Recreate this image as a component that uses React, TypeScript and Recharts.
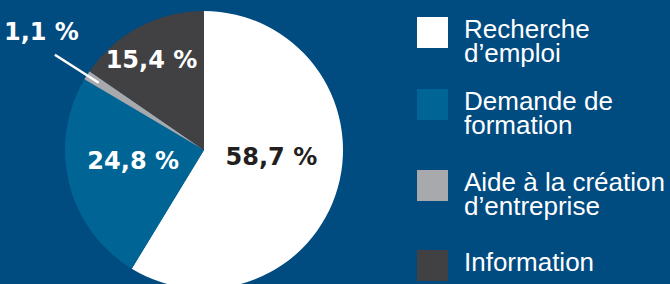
import { Cell, Legend, Pie, PieChart } from "recharts";

// Share of requests by type (%)
const categories = [
  "Recherche\nd’emploi",
  "Demande de\nformation",
  "Aide à la création\nd’entreprise",
  "Information",
];
const shares = [58.7, 24.8, 1.1, 15.4];
const colors = ["#ffffff", "#006595", "#a7a9ac", "#414042"];
const labelColors = ["#231f20", "#ffffff", "#ffffff", "#ffffff"];

const BG = "#004b80";
const RADIAN = Math.PI / 180;

// label placement per slice: radius from centre + small nudges
const labelPos = [
  { r: 70, dx: 0, dy: -12 },
  { r: 73, dx: 0, dy: -7 },
  { r: 200, dx: 6, dy: -10 },
  { r: 100, dx: -6, dy: -1 },
];

const data = categories.map((name, i) => ({ name, value: shares[i] }));

function formatPct(v: number) {
  return v.toFixed(1).replace(".", ",") + " %";
}

const renderLabel = (props: any) => {
  const { cx, cy, midAngle, index, value } = props;
  const p = labelPos[index];
  const cos = Math.cos(-midAngle * RADIAN);
  const sin = Math.sin(-midAngle * RADIAN);
  const x = cx + p.r * cos + p.dx;
  const y = cy + p.r * sin + p.dy;
  return (
    <g key={`lbl-${index}`}>
      {index === 2 && (
        <line
          x1={cx + 125 * cos}
          y1={cy + 125 * sin}
          x2={cx + 177 * cos}
          y2={cy + 177 * sin}
          stroke="#ffffff"
          strokeWidth={2.5}
        />
      )}
      <text
        x={x}
        y={y}
        textAnchor="middle"
        dominantBaseline="central"
        fill={labelColors[index]}
        fontFamily="'DejaVu Sans', sans-serif"
        fontWeight={700}
        fontSize={24}
      >
        {formatPct(value)}
      </text>
    </g>
  );
};

const legendTops = [17, 89, 170, 250];

const renderLegend = (props: any) => {
  const { payload } = props;
  return (
    <div style={{ position: "relative", width: 253, height: 284 }}>
      {(payload || []).map((entry: any) => {
        const i = categories.indexOf(entry.value);
        return (
          <div
            key={`leg-${i}`}
            style={{ position: "absolute", left: 0, top: legendTops[i], display: "flex" }}
          >
            <div style={{ width: 31, height: 31, background: colors[i], flex: "none" }} />
            <div
              style={{
                marginLeft: 16,
                marginTop: 0,
                color: "#ffffff",
                fontFamily: "'Liberation Sans Narrow', 'Arial Narrow', sans-serif",
                fontSize: 26,
                lineHeight: "24px",
                whiteSpace: "pre-line",
              }}
            >
              {entry.value}
            </div>
          </div>
        );
      })}
    </div>
  );
};

export default function App() {
  return (
    <div
      style={{
        position: "absolute",
        left: 0,
        top: 0,
        width: 670,
        height: 284,
        background: BG,
        overflow: "hidden",
      }}
    >
      <PieChart width={670} height={284} margin={{ top: 0, right: 0, bottom: 0, left: 0 }}>
        <Pie
          data={data}
          dataKey="value"
          nameKey="name"
          cx={204}
          cy={150}
          outerRadius={139}
          startAngle={90}
          endAngle={-270}
          stroke="none"
          label={renderLabel}
          labelLine={false}
          isAnimationActive={false}
        >
          {data.map((d, i) => (
            <Cell key={d.name} fill={colors[i]} />
          ))}
        </Pie>
        <Legend
          layout="vertical"
          align="right"
          verticalAlign="top"
          content={renderLegend}
          wrapperStyle={{ top: 0, left: 417, right: "auto", width: 253, height: 284 }}
        />
      </PieChart>
    </div>
  );
}
